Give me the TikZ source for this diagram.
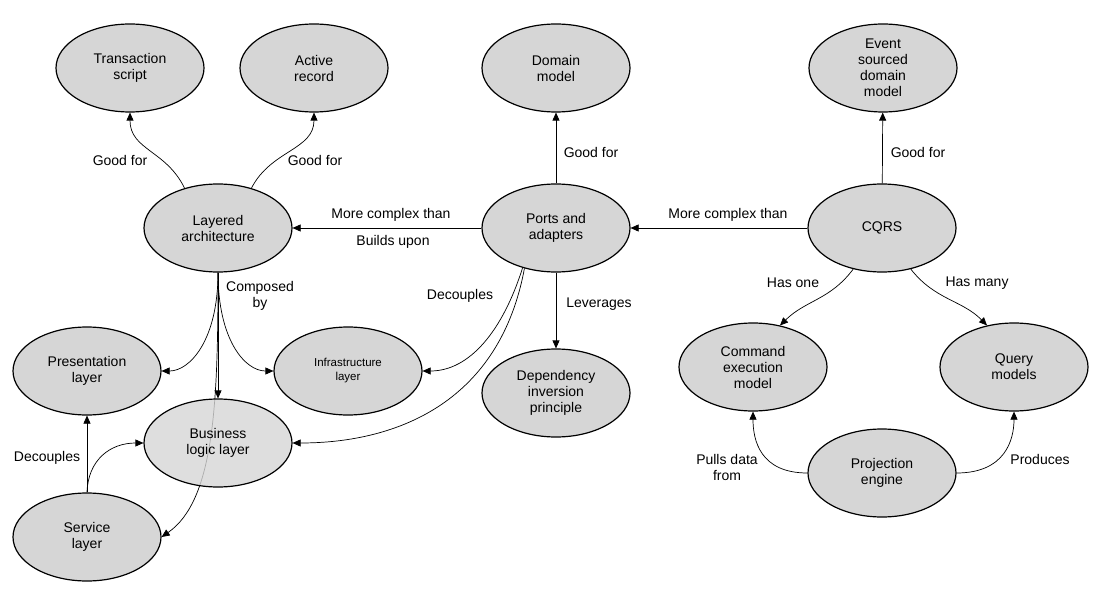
\documentclass[tikz,border=0pt]{standalone}
\usepackage{fontspec}
\setmainfont{Liberation Sans}
\usetikzlibrary{arrows.meta,shapes.geometric}
\begin{document}
\begin{tikzpicture}[x=1pt,y=-1pt,
  n/.style={ellipse,draw,line width=1.2pt,fill={rgb,255:red,214;green,214;blue,214},minimum width=148pt,minimum height=88pt,align=center,font=\fontsize{14}{16}\selectfont,inner sep=0pt},
  e/.style={-{Triangle[length=8pt,width=7pt]},line width=0.7pt},
  l/.style={font=\fontsize{14}{16}\selectfont,align=center}]
\useasboundingbox (0,0) rectangle (1103,604);
\node[n] (ts) at (130,68) {Transaction\\script};
\node[n] (ar) at (314,68) {Active\\record};
\node[n] (dm) at (556,68) {Domain\\model};
\node[n] (es) at (883,68) {Event\\sourced\\domain\\model};
\node[n] (la) at (218,228) {Layered\\architecture};
\node[n] (pa) at (556,228) {Ports and\\adapters};
\node[n] (cq) at (882,228) {CQRS};
\node[n] (pl) at (87,371) {Presentation\\layer};
\node[n,font=\fontsize{11.5}{14}\selectfont] (il) at (348,371) {Infrastructure\\layer};
\node[n] (di) at (556,393) {Dependency\\inversion\\principle};
\node[n] (ce) at (753,367) {Command\\execution\\model};
\node[n] (qm) at (1014,367) {Query\\models};
\node[n] (pe) at (882,473) {Projection\\engine};
\node[n] (sl) at (87,537) {Service\\layer};
% line behind business logic layer
\draw[e] (la.south) .. controls (218,400) and (215,500) .. (sl.east);
\node[n,fill opacity=0.8,text opacity=1] (bl) at (218,443) {Business\\logic layer};

\draw[e] (la.130) .. controls (166,150) and (130,150) .. (ts.south);
\draw[e] (la.50) .. controls (271,150) and (314,150) .. (ar.south);
\draw[e] (pa) -- (dm);
\draw[e] (cq) -- (es);
\draw[e] (pa) -- (la);
\draw[e] (cq) -- (pa);
\draw[e] (la.south) .. controls (218,340) and (190,371) .. (pl.east);
\draw[e] (la.south) -- (bl.north);
\draw[e] (la.south) .. controls (218,340) and (245,371) .. (il.west);
\draw[e] (pa.-130) .. controls (503,330) and (470,371) .. (il.east);
\draw[e] (pa.-128) .. controls (500,400) and (400,443) .. (bl.east);
\draw[e] (pa) -- (di);
\draw[e] (cq.-125) .. controls (830,300) and (806,300) .. (ce.57);
\draw[e] (cq.-55) .. controls (935,300) and (962,300) .. (qm.123);
\draw[e] (pe.west) .. controls (760,473) and (753,440) .. (ce.south);
\draw[e] (pe.east) .. controls (1005,473) and (1014,440) .. (qm.south);
\draw[e] (sl.north) -- (pl.south);
\draw[e] (sl.north) .. controls (88,460) and (110,443) .. (bl.west);

\node[l] (l1) at (120,160) {Good for};
\node[l] (l2) at (315,160) {Good for};
\node[l] (l3) at (591,152) {Good for};
\node[l] (l4) at (918,152) {Good for};
\node[l] (l5) at (391,215) {More complex than};
\node[l] (l6) at (393,242) {Builds upon};
\node[l] (l7) at (728,215) {More complex than};
\node[l] (l8) at (260,296) {Composed\\by};
\node[l] (l9) at (460,296) {Decouples};
\node[l] (l10) at (599,304) {Leverages};
\node[l] (l11) at (793,283) {Has one};
\node[l] (l12) at (977,283) {Has many};
\node[l] (l13) at (727,467) {Pulls data\\from};
\node[l] (l14) at (1040,459) {Produces};
\node[l] (l15) at (47,458) {Decouples};
\end{tikzpicture}
\end{document}
